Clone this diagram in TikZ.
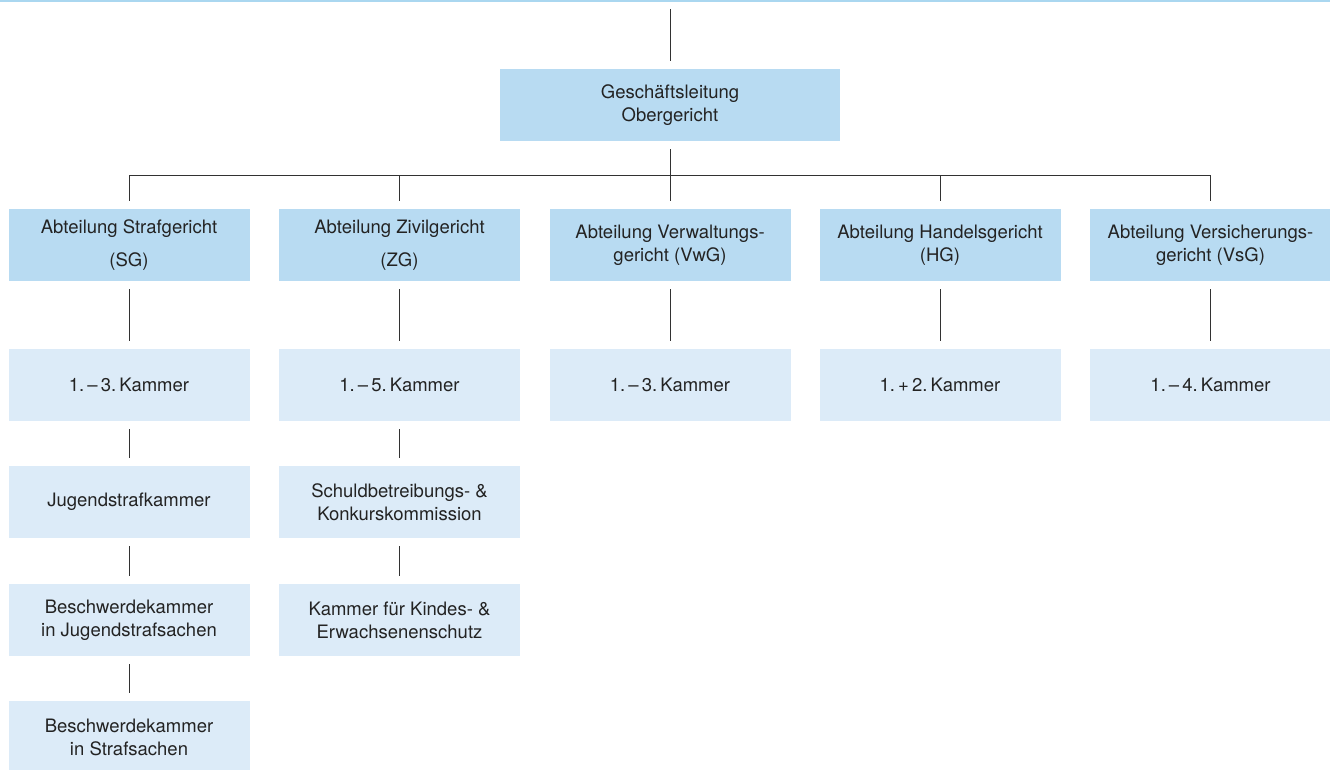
\documentclass[tikz,border=0pt]{standalone}
\usepackage{fontspec}
\setmainfont{TeX Gyre Heros}
\definecolor{darkbox}{RGB}{184,219,242}
\definecolor{lightbox}{RGB}{220,235,248}
\definecolor{topline}{RGB}{170,215,240}
\definecolor{txt}{RGB}{35,35,35}
\definecolor{ln}{RGB}{50,50,50}
\begin{document}
\begin{tikzpicture}[x=1pt,y=-1pt,
  every node/.style={font=\fontsize{18.5}{23}\selectfont, text=txt, align=center, inner sep=0pt},
  boxd/.style={rectangle, fill=darkbox, minimum width=241pt, minimum height=72pt},
  boxl/.style={rectangle, fill=lightbox, minimum width=241pt, minimum height=72pt},
  conn/.style={draw=ln, line width=0.9pt, shorten <=8pt, shorten >=8pt},
  connup/.style={draw=ln, line width=0.9pt, shorten <=8pt}]
\useasboundingbox (0,0) rectangle (1330,770);
\fill[topline] (0,0) rectangle (1330,2);
\coordinate (top) at (670,9);
\coordinate (bus) at (670,175);
\node[boxd, minimum width=340pt] (gl) at (670,105) {Geschäftsleitung\\Obergericht};
% row 2
\node[boxd] (sg) at (129,245) {Abteilung Strafgericht\\[10pt](SG)};
\node[boxd] (zg) at (399.5,245) {Abteilung Zivilgericht\\[10pt](ZG)};
\node[boxd] (vwg) at (670,245) {Abteilung Verwaltungs-\\gericht (VwG)};
\node[boxd] (hg) at (940,245) {Abteilung Handelsgericht\\(HG)};
\node[boxd] (vsg) at (1210.5,245) {Abteilung Versicherungs-\\gericht (VsG)};
% row 3
\node[boxl] (sg1) at (129,385) {1.\,–\,3.\,Kammer};
\node[boxl] (zg1) at (399.5,385) {1.\,–\,5.\,Kammer};
\node[boxl] (vwg1) at (670,385) {1.\,–\,3.\,Kammer};
\node[boxl] (hg1) at (940,385) {1.\,+\,2.\,Kammer};
\node[boxl] (vsg1) at (1210.5,385) {1.\,–\,4.\,Kammer};
% row 4
\node[boxl] (sg2) at (129,502) {Jugendstrafkammer};
\node[boxl] (zg2) at (399.5,502) {Schuldbetreibungs- \&\\Konkurskommission};
% row 5
\node[boxl] (sg3) at (129,620) {Beschwerdekammer\\in Jugendstrafsachen};
\node[boxl] (zg3) at (399.5,620) {Kammer für Kindes- \&\\Erwachsenenschutz};
% row 6
\node[boxl] (sg4) at (129,737) {Beschwerdekammer\\in Strafsachen};
% connectors
\draw[conn, shorten <=0pt] (top) -- (gl.north);
\draw[connup] (gl.south) -- (bus);
\draw[conn] (sg.north) -- (sg.north |- bus) -- (vsg.north |- bus) -- (vsg.north);
\draw[connup] (zg.north) -- (zg.north |- bus);
\draw[connup] (vwg.north) -- (vwg.north |- bus);
\draw[connup] (hg.north) -- (hg.north |- bus);
\draw[conn] (sg) -- (sg1);
\draw[conn] (zg) -- (zg1);
\draw[conn] (vwg) -- (vwg1);
\draw[conn] (hg) -- (hg1);
\draw[conn] (vsg) -- (vsg1);
\draw[conn] (sg1) -- (sg2);
\draw[conn] (sg2) -- (sg3);
\draw[conn] (sg3) -- (sg4);
\draw[conn] (zg1) -- (zg2);
\draw[conn] (zg2) -- (zg3);
\end{tikzpicture}
\end{document}
